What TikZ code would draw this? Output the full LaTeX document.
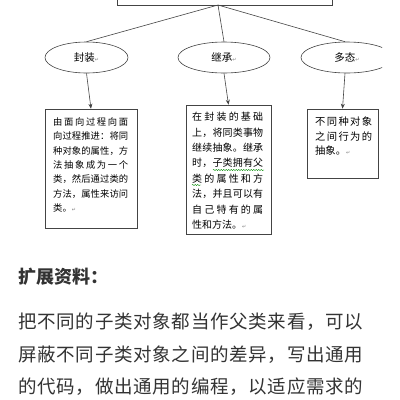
\documentclass[tikz,border=0pt]{standalone}
\usepackage{fontspec}
\setmainfont{Noto Sans CJK SC}
\newfontfamily\symfont{DejaVu Sans}
\usetikzlibrary{shapes.geometric,arrows.meta,decorations.pathmorphing}
\makeatletter
\def\jl#1#2{\makebox[#1][s]{\jl@first#2\relax}}
\def\jl@first#1{#1\jl@loop}
\def\jl@loop#1{\ifx#1\relax\else\hfill#1\expandafter\jl@loop\fi}
\makeatother
\definecolor{txt}{HTML}{333333}
\definecolor{lnc}{HTML}{444444}
\newcommand\rt{{\symfont\color{gray}\fontsize{5}{5}\selectfont ↵}}
\tikzset{
  ln/.style={draw=lnc, line width=0.6pt},
  ell/.style={ellipse, draw=lnc, line width=0.6pt, minimum height=31pt, inner sep=0pt, font=\fontsize{10.5}{11}\selectfont},
  tbox/.style={draw=lnc, line width=0.6pt, inner sep=0pt},
  bl/.style={anchor=west, inner sep=0pt, font=\fontsize{9.3}{10}\selectfont},
  ml/.style={anchor=west, inner sep=0pt, font=\fontsize{10}{11}\selectfont},
  rl/.style={anchor=west, inner sep=0pt, font=\fontsize{10.3}{11}\selectfont},
  pl/.style={anchor=west, inner sep=0pt, text=txt, font=\fontsize{18.5}{20}\selectfont},
  wavy/.style={draw=green!55!black, line width=0.45pt, decorate, decoration={snake, amplitude=0.6pt, segment length=2.5pt}}
}
\begin{document}
\begin{tikzpicture}[x=1pt,y=-1pt]
\useasboundingbox (0,0) rectangle (400,400);
\clip (0,0) rectangle (400,400);
\fill[white] (0,0) rectangle (400,400);
% top box (cut off)
\node[tbox, minimum width=215pt, minimum height=40pt] (top) at (224.5,-15) {};
\coordinate (hub) at (218,5);
% ellipses
\node[ell, minimum width=83pt] (e1) at (86.5,57.5) {封装\rt};
\node[ell, minimum width=92pt] (e2) at (224,57.5) {继承\rt};
\begin{scope}
\clip (0,0) rectangle (382,400);
\node[ell, minimum width=92pt] (e3) at (347,57.5) {多态\rt};
\end{scope}
\draw[ln] (hub) -- (e1.north);
\draw[ln] (hub) -- (e2.north);
\draw[ln] (hub) -- ([xshift=-2pt]e3.north);
% boxes
\node[tbox, minimum width=92pt, minimum height=119pt] (b1) at (91,168.5) {};
\node[tbox, minimum width=85pt, minimum height=129pt] (b2) at (228.5,169.5) {};
\node[tbox, minimum width=71pt, minimum height=69pt] (b3) at (342.5,143.5) {};
\draw[ln,-{Stealth[length=5pt,width=4pt]}] (e1.south) -- (b1.north);
\draw[ln,-{Stealth[length=5pt,width=4pt]}] (e2.south) -- (b2.north);
\draw[ln,-{Stealth[length=5pt,width=4pt]}] ([xshift=-2pt]e3.south) -- (b3.north);
% left box text
\node[bl] (l1) at (53,122) {\jl{75pt}{由面向过程向面}};
\node[bl] (l2) at (53,136.3) {\jl{75pt}{向过程推进：将同}};
\node[bl] (l3) at (53,150.7) {\jl{75pt}{种对象的属性，方}};
\node[bl] (l4) at (53,165) {\jl{75pt}{法抽象成为一个}};
\node[bl] (l5) at (53,179.3) {\jl{75pt}{类，然后通过类的}};
\node[bl] (l6) at (53,193.7) {\jl{75pt}{方法，属性来访问}};
\node[bl] (l7) at (53,208) {类。\rt};
% middle box text
\node[ml] (m1) at (192,117) {\jl{71pt}{在封装的基础}};
\node[ml] (m2) at (192,132.4) {\jl{71pt}{上，将同类事物}};
\node[ml] (m3) at (192,147.9) {\jl{71pt}{继续抽象。继承}};
\node[ml] (m4) at (192,163.3) {\jl{71pt}{时，子类拥有父}};
\node[ml] (m5) at (192,178.7) {\jl{71pt}{类的属性和方}};
\node[ml] (m6) at (192,194.1) {\jl{71pt}{法，并且可以有}};
\node[ml] (m7) at (192,209.6) {\jl{71pt}{自己特有的属}};
\node[ml] (m8) at (192,225) {性和方法。\rt};
\draw[wavy] (213,170) -- (264,170);
\draw[wavy] (192,185) -- (201,185);
% right box text
\node[rl] (r1) at (315,122) {\jl{57pt}{不同种对象}};
\node[rl] (r2) at (315,136.5) {\jl{57pt}{之间行为的}};
\node[rl] (r3) at (315,151) {抽象。\rt};
% bottom text
\node[anchor=west, inner sep=0pt, text=txt, font=\fontsize{18}{20}\selectfont\bfseries] (h) at (18,277) {扩展资料：};
\node[pl] (p1) at (18,322) {\jl{345pt}{把不同的子类对象都当作父类来看，可以}};
\node[pl] (p2) at (18,355) {\jl{345pt}{屏蔽不同子类对象之间的差异，写出通用}};
\node[pl] (p3) at (18,387) {\jl{345pt}{的代码，做出通用的编程，以适应需求的}};
\end{tikzpicture}
\end{document}
